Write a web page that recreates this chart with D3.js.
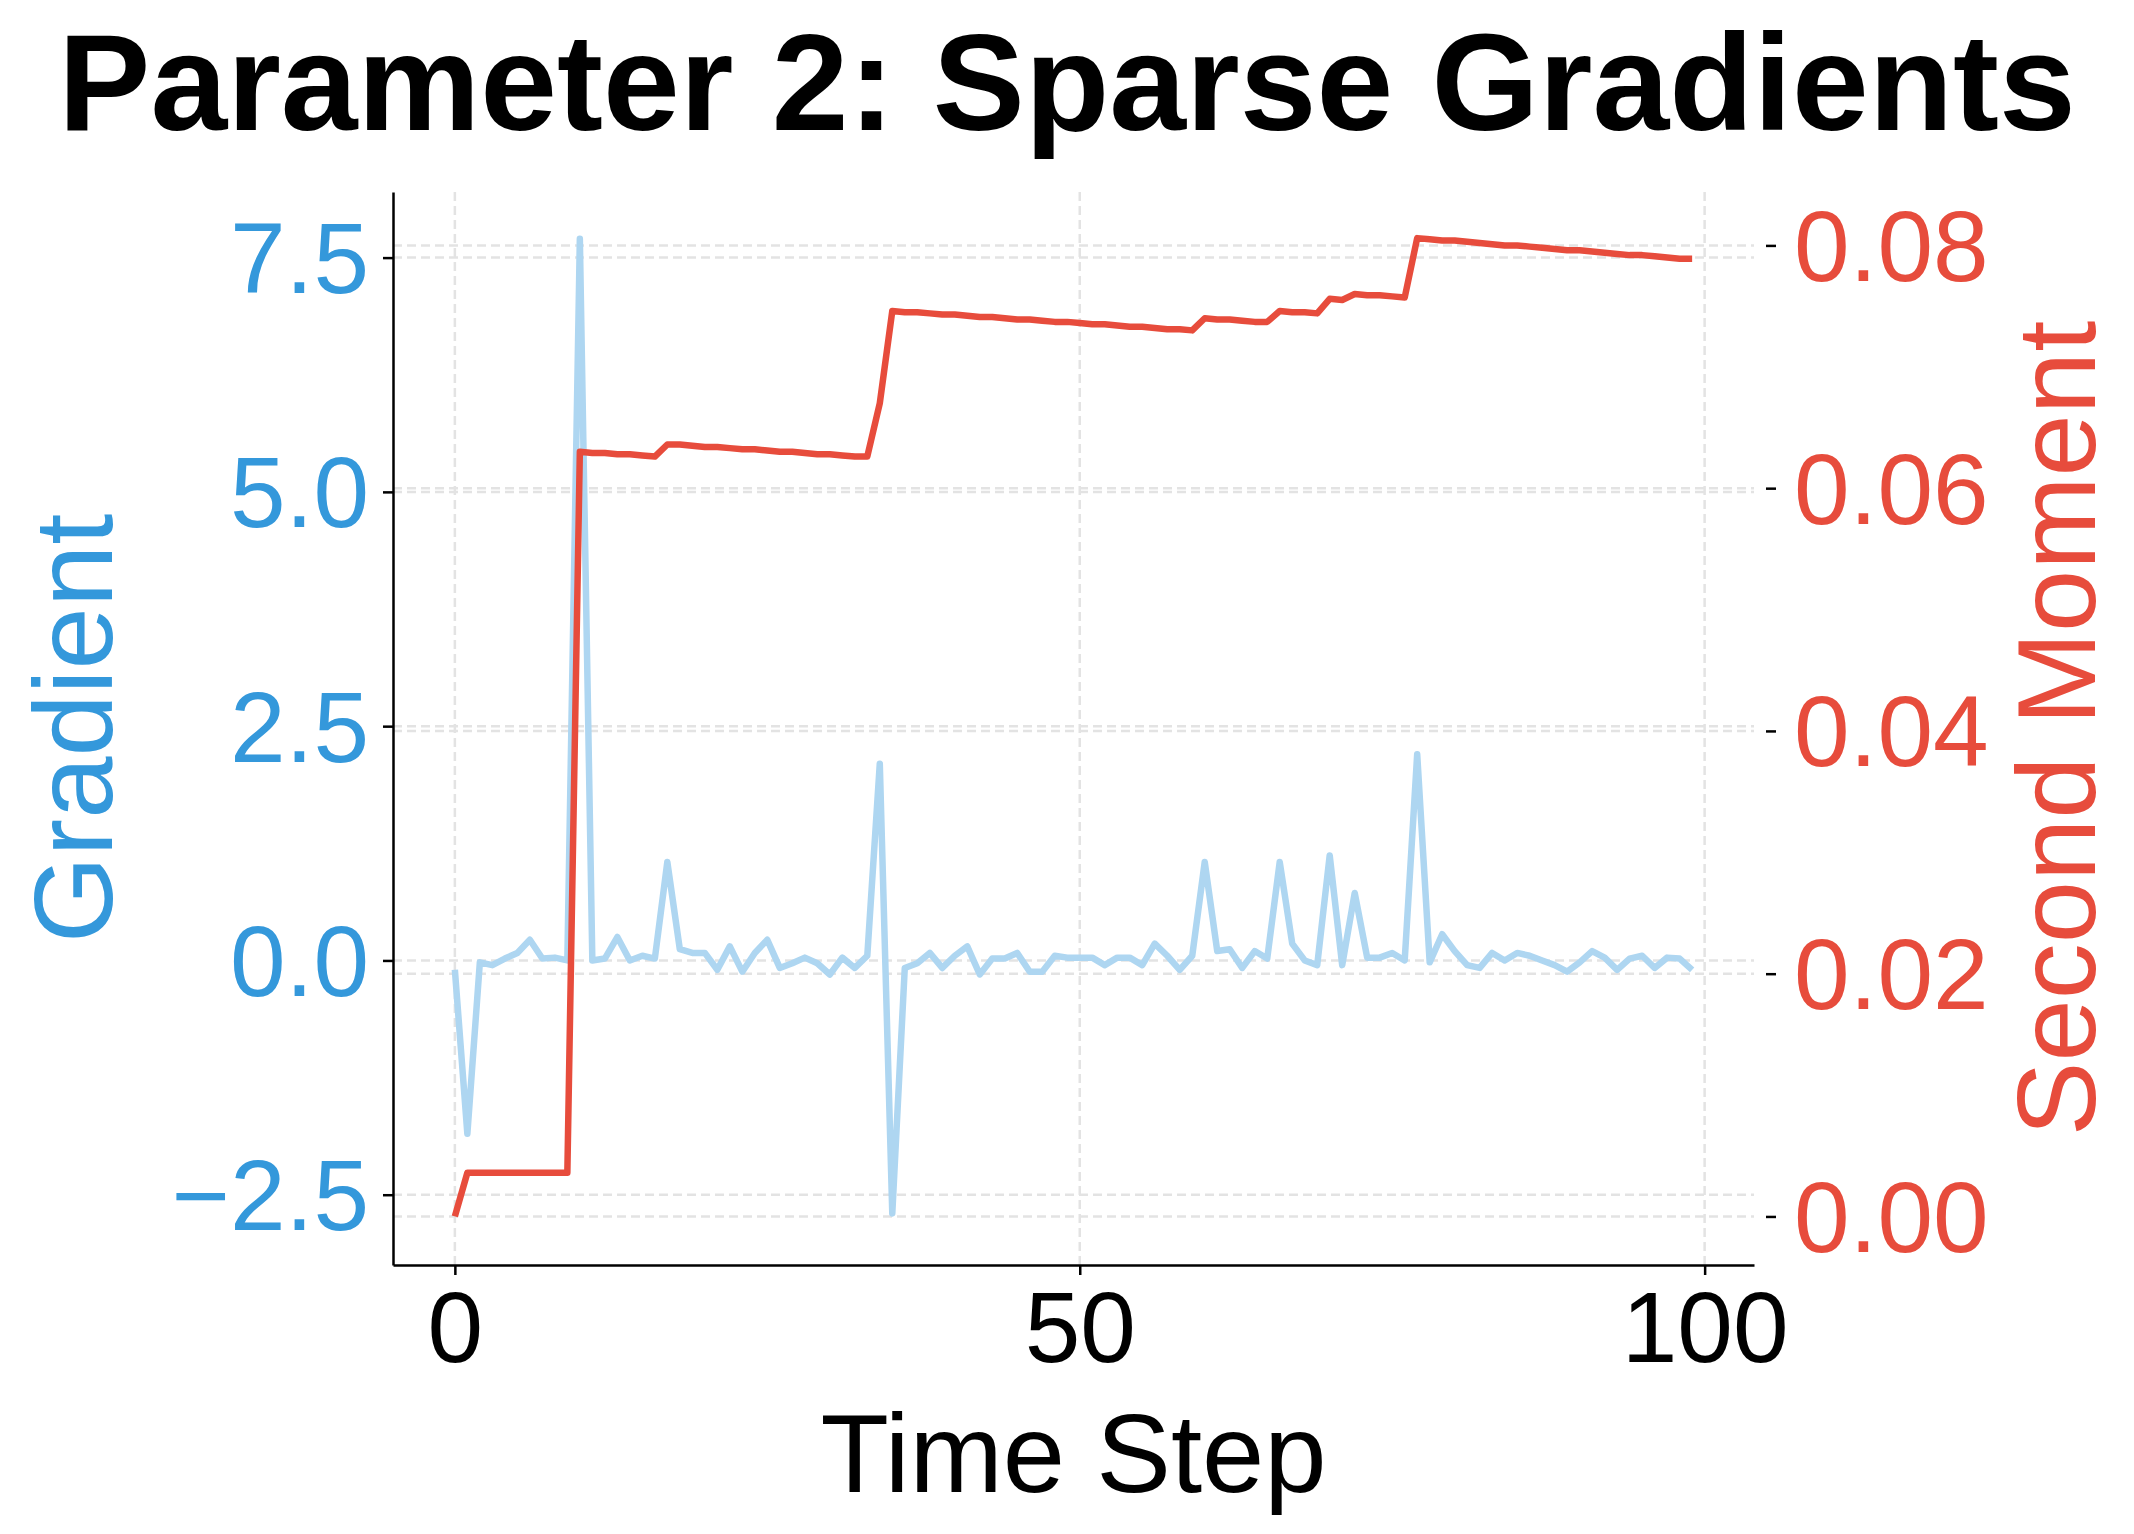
<!DOCTYPE html>
<html><head><meta charset="utf-8">
<script src="https://cdn.jsdelivr.net/npm/d3@7"></script>
<style>body{margin:0;background:#fff}</style>
</head><body><svg id="c" width="2134" height="1534"></svg>
<script>
// time steps 0..99
const steps = d3.range(100);
const gradient = [-0.1,-1.85,-0.02,-0.05,0.02,0.08,0.22,0.02,0.03,0.0,
  7.7,0.0,0.02,0.25,0.0,0.05,0.02,1.05,0.12,0.08,
  0.08,-0.1,0.15,-0.12,0.08,0.22,-0.08,-0.03,0.03,-0.03,
  -0.15,0.03,-0.08,0.05,2.1,-2.7,-0.08,-0.03,0.08,-0.08,
  0.05,0.15,-0.15,0.02,0.02,0.08,-0.12,-0.12,0.05,0.03,
  0.03,0.03,-0.05,0.03,0.03,-0.05,0.18,0.05,-0.1,0.05,
  1.05,0.1,0.12,-0.08,0.1,0.02,1.05,0.18,0.0,-0.05,
  1.12,-0.05,0.72,0.03,0.03,0.08,0.0,2.2,-0.02,0.28,
  0.1,-0.05,-0.08,0.08,0.0,0.08,0.05,0.0,-0.05,-0.12,
  -0.02,0.1,0.03,-0.1,0.02,0.05,-0.08,0.03,0.02,-0.1];
const secondMoment = [0.0,0.0036,0.0036,0.0036,0.0036,0.0036,0.0036,0.0036,0.0036,0.0036,
  0.0630,0.0629,0.0629,0.0628,0.0628,0.0627,0.0626,0.0636,0.0636,0.0635,
  0.0634,0.0634,0.0633,0.0632,0.0632,0.0631,0.0630,0.0630,0.0629,0.0628,
  0.0628,0.0627,0.0626,0.0626,0.0670,0.0746,0.0745,0.0745,0.0744,0.0743,
  0.0743,0.0742,0.0741,0.0741,0.0740,0.0739,0.0739,0.0738,0.0737,0.0737,
  0.0736,0.0735,0.0735,0.0734,0.0733,0.0733,0.0732,0.0731,0.0731,0.0730,
  0.0740,0.0739,0.0739,0.0738,0.0737,0.0737,0.0746,0.0745,0.0745,0.0744,
  0.0756,0.0755,0.0760,0.0759,0.0759,0.0758,0.0757,0.0806,0.0805,0.0804,
  0.0804,0.0803,0.0802,0.0801,0.0800,0.0800,0.0799,0.0798,0.0797,0.0796,
  0.0796,0.0795,0.0794,0.0793,0.0792,0.0792,0.0791,0.0790,0.0789,0.0789];
const xTicks = [0,50,100];
const gradTicks = [-2.5,0,2.5,5,7.5];
const momentTicks = [0,0.02,0.04,0.06,0.08];

const blue = "#3498db", red = "#e74c3c";
const L = 393, R = 1754, T = 192, B = 1265;
const font = "'Liberation Sans', Arial, sans-serif";
const svg = d3.select("#c").style("font-family", font);

const x = d3.scaleLinear().domain([-4.95, 103.95]).range([L, R]);
const y = d3.scaleLinear().domain([-3.25, 8.2]).range([B, T]);
const y2 = d3.scaleLinear().domain([-0.004, 0.0844]).range([B, T]);

// grids
const grid = svg.append("g").attr("stroke", "#e3e3e3").attr("stroke-width", 2.5).attr("stroke-dasharray", "9,5");
xTicks.forEach(t => grid.append("line").attr("x1", x(t)).attr("x2", x(t)).attr("y1", T).attr("y2", B));
gradTicks.forEach(t => grid.append("line").attr("x1", L).attr("x2", R).attr("y1", y(t)).attr("y2", y(t)));
momentTicks.forEach(t => grid.append("line").attr("x1", L).attr("x2", R).attr("y1", y2(t)).attr("y2", y2(t)));

// lines
svg.append("path").datum(steps)
  .attr("fill", "none").attr("stroke", "#aed6f1").attr("stroke-width", 6.5).attr("stroke-linejoin", "round")
  .attr("d", d3.line().x(i => x(i)).y(i => y(gradient[i])));
svg.append("path").datum(steps)
  .attr("fill", "none").attr("stroke", red).attr("stroke-width", 6.5).attr("stroke-linejoin", "round")
  .attr("d", d3.line().x(i => x(i)).y(i => y2(secondMoment[i])));

// axes
const ax = svg.append("g").attr("transform", `translate(0,${B})`)
  .call(d3.axisBottom(x).tickValues(xTicks).tickSizeInner(10).tickSizeOuter(0).tickPadding(16));
ax.selectAll("text").attr("font-size", 100).attr("fill", "#000").attr("font-family", font);
const ay = svg.append("g").attr("transform", `translate(${L},0)`)
  .call(d3.axisLeft(y).tickValues(gradTicks).tickSizeInner(10).tickSizeOuter(0).tickPadding(14).tickFormat(d => d3.format(".1f")(d).replace("-", "\u2212")));
ay.selectAll("text").attr("font-size", 100).attr("fill", blue).attr("dy", "0.35em").attr("font-family", font);
const ay2 = svg.append("g").attr("transform", `translate(${R + 12},0)`)
  .call(d3.axisRight(y2).tickValues(momentTicks).tickSize(10).tickPadding(18).tickFormat(d3.format(".2f")));
ay2.selectAll("text").attr("font-size", 100).attr("fill", red).attr("dy", "0.35em").attr("font-family", font);
ay2.select(".domain").remove();
[ax, ay].forEach(g => g.select(".domain").attr("stroke-width", 2.5));
svg.selectAll(".tick line").attr("stroke-width", 2.5);

// labels
svg.append("text").attr("x", 1067).attr("y", 130).attr("text-anchor", "middle")
  .attr("font-size", 138).attr("font-weight", "bold").text("Parameter 2: Sparse Gradients");
svg.append("text").attr("x", (L + R) / 2).attr("y", 1492).attr("text-anchor", "middle")
  .attr("font-size", 112).text("Time Step");
svg.append("text").attr("transform", `translate(112,${(T + B) / 2}) rotate(-90)`).attr("text-anchor", "middle")
  .attr("font-size", 112).attr("fill", blue).text("Gradient");
svg.append("text").attr("transform", `translate(2095,${(T + B) / 2}) rotate(-90)`).attr("text-anchor", "middle")
  .attr("font-size", 112).attr("fill", red).text("Second Moment");
</script></body></html>
